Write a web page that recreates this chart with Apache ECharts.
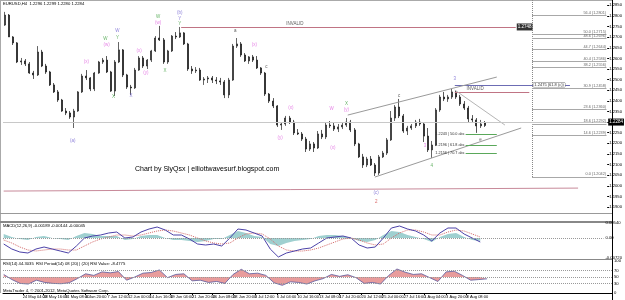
<!DOCTYPE html>
<html>
<head>
<meta charset="utf-8">
<script src="https://cdn.jsdelivr.net/npm/echarts@6/dist/echarts.min.js"></script>
<style>
  html, body { margin: 0; padding: 0; background: #fff; }
  #chart { width: 625px; height: 300px; }
</style>
</head>
<body>
<div id="chart"></div>
<script>
// EURUSD H4, 21 May - 13 Aug 2012.
// One candle here stands for three H4 bars (12 hours): [open, close, low, high]
const candles = [
  [1.2757,1.2804,1.2753,1.2819],[1.2804,1.2701,1.2701,1.2809],[1.2701,1.2673,1.2663,1.2705],
  [1.2673,1.2583,1.2578,1.2677],[1.2583,1.2588,1.2569,1.2602],[1.2588,1.2574,1.2564,1.2597],
  [1.2574,1.2531,1.2527,1.2583],[1.2531,1.2522,1.2503,1.2541],[1.2522,1.2630,1.2517,1.2658],
  [1.2630,1.2564,1.2559,1.2640],[1.2564,1.2536,1.2527,1.2574],[1.2536,1.2475,1.2470,1.2541],
  [1.2475,1.2442,1.2437,1.2484],[1.2442,1.2404,1.2395,1.2451],[1.2404,1.2352,1.2348,1.2409],
  [1.2352,1.2343,1.2333,1.2366],[1.2343,1.2324,1.2315,1.2352],[1.2324,1.2352,1.2272,1.2362],
  [1.2352,1.2442,1.2348,1.2446],[1.2442,1.2517,1.2437,1.2527],[1.2517,1.2508,1.2498,1.2545],
  [1.2508,1.2456,1.2446,1.2512],[1.2456,1.2531,1.2446,1.2536],[1.2531,1.2583,1.2527,1.2588],
  [1.2583,1.2592,1.2574,1.2602],[1.2592,1.2536,1.2531,1.2611],[1.2536,1.2446,1.2442,1.2541],
  [1.2446,1.2583,1.2423,1.2592],[1.2583,1.2640,1.2578,1.2677],[1.2640,1.2522,1.2512,1.2644],
  [1.2522,1.2465,1.2456,1.2527],[1.2465,1.2461,1.2428,1.2475],[1.2461,1.2545,1.2456,1.2555],
  [1.2545,1.2602,1.2541,1.2611],[1.2602,1.2564,1.2555,1.2611],[1.2564,1.2592,1.2550,1.2597],
  [1.2592,1.2635,1.2583,1.2640],[1.2635,1.2696,1.2630,1.2705],[1.2696,1.2687,1.2682,1.2753],
  [1.2687,1.2583,1.2574,1.2696],[1.2583,1.2635,1.2574,1.2640],[1.2635,1.2705,1.2630,1.2710],
  [1.2705,1.2701,1.2691,1.2724],[1.2701,1.2720,1.2696,1.2748],[1.2720,1.2668,1.2663,1.2724],
  [1.2668,1.2550,1.2541,1.2673],[1.2550,1.2541,1.2527,1.2564],[1.2541,1.2545,1.2531,1.2559],
  [1.2545,1.2498,1.2494,1.2555],[1.2498,1.2503,1.2475,1.2512],[1.2503,1.2508,1.2484,1.2517],
  [1.2508,1.2498,1.2484,1.2517],[1.2498,1.2494,1.2479,1.2512],[1.2494,1.2489,1.2475,1.2508],
  [1.2489,1.2428,1.2413,1.2498],[1.2428,1.2498,1.2413,1.2508],[1.2498,1.2658,1.2494,1.2668],
  [1.2658,1.2668,1.2649,1.2696],[1.2668,1.2616,1.2607,1.2677],[1.2616,1.2588,1.2583,1.2625],
  [1.2588,1.2607,1.2574,1.2611],[1.2607,1.2592,1.2583,1.2616],[1.2592,1.2555,1.2550,1.2611],
  [1.2555,1.2531,1.2522,1.2559],[1.2531,1.2432,1.2423,1.2536],[1.2432,1.2399,1.2390,1.2437],
  [1.2399,1.2376,1.2366,1.2413],[1.2376,1.2286,1.2277,1.2380],[1.2286,1.2291,1.2263,1.2300],
  [1.2291,1.2319,1.2282,1.2329],[1.2319,1.2300,1.2291,1.2329],[1.2300,1.2249,1.2239,1.2310],
  [1.2249,1.2244,1.2239,1.2267],[1.2244,1.2220,1.2211,1.2253],[1.2220,1.2173,1.2159,1.2230],
  [1.2173,1.2197,1.2164,1.2211],[1.2197,1.2178,1.2159,1.2206],[1.2178,1.2244,1.2173,1.2258],
  [1.2244,1.2230,1.2220,1.2263],[1.2230,1.2286,1.2220,1.2296],[1.2286,1.2282,1.2272,1.2305],
  [1.2282,1.2267,1.2258,1.2300],[1.2267,1.2277,1.2253,1.2291],[1.2277,1.2286,1.2267,1.2300],
  [1.2286,1.2300,1.2277,1.2319],[1.2300,1.2263,1.2253,1.2310],[1.2263,1.2197,1.2187,1.2272],
  [1.2197,1.2136,1.2131,1.2202],[1.2136,1.2098,1.2084,1.2150],[1.2098,1.2126,1.2088,1.2136],
  [1.2126,1.2098,1.2093,1.2140],[1.2098,1.2060,1.2046,1.2107],[1.2060,1.2136,1.2051,1.2145],
  [1.2136,1.2154,1.2131,1.2164],[1.2154,1.2216,1.2145,1.2225],[1.2216,1.2319,1.2211,1.2352],
  [1.2319,1.2371,1.2305,1.2380],[1.2371,1.2329,1.2319,1.2409],[1.2329,1.2258,1.2249,1.2338],
  [1.2258,1.2272,1.2239,1.2282],[1.2272,1.2282,1.2263,1.2291],[1.2282,1.2300,1.2272,1.2310],
  [1.2300,1.2291,1.2282,1.2315],[1.2291,1.2234,1.2206,1.2300],[1.2234,1.2169,1.2159,1.2272],
  [1.2169,1.2192,1.2131,1.2211],[1.2192,1.2357,1.2187,1.2366],[1.2357,1.2418,1.2348,1.2428],
  [1.2418,1.2409,1.2399,1.2442],[1.2409,1.2418,1.2395,1.2428],[1.2418,1.2442,1.2409,1.2456],
  [1.2442,1.2418,1.2409,1.2451],[1.2418,1.2385,1.2376,1.2428],[1.2385,1.2366,1.2357,1.2399],
  [1.2366,1.2315,1.2300,1.2376],[1.2315,1.2310,1.2300,1.2333],[1.2310,1.2282,1.2249,1.2319],
  [1.2282,1.2291,1.2272,1.2310],[1.2296,1.2284,1.2277,1.2305]
];

// indicator readings, one every 6 H4 bars (24 hours)
const macdMain = [
  -0.00216,-0.00396,-0.00504,-0.00540,-0.00396,-0.00324,-0.00396,-0.00468,-0.00540,-0.00288,
  0.00000,0.00072,0.00108,0.00180,0.00216,0.00000,0.00036,0.00216,0.00324,0.00396,
  0.00288,0.00108,0.00108,-0.00036,-0.00216,-0.00252,-0.00216,-0.00288,0.00000,0.00324,
  0.00288,0.00180,0.00072,-0.00396,-0.00684,-0.00540,-0.00468,-0.00396,-0.00360,-0.00180,
  0.00000,0.00036,0.00072,0.00000,-0.00252,-0.00360,-0.00324,0.00000,0.00360,0.00432,
  0.00324,0.00252,0.00108,-0.00108,0.00180,0.00360,0.00360,0.00144,0.00000,-0.00144
];
const macdSignal = [
  -0.00072,-0.00180,-0.00324,-0.00432,-0.00468,-0.00432,-0.00396,-0.00396,-0.00432,-0.00432,
  -0.00288,-0.00144,-0.00036,0.00036,0.00108,0.00108,0.00072,0.00108,0.00180,0.00252,
  0.00288,0.00252,0.00180,0.00108,0.00000,-0.00108,-0.00180,-0.00216,-0.00180,0.00000,
  0.00144,0.00180,0.00144,-0.00036,-0.00288,-0.00432,-0.00468,-0.00468,-0.00432,-0.00360,
  -0.00252,-0.00144,-0.00036,0.00000,-0.00072,-0.00180,-0.00252,-0.00216,0.00000,0.00180,
  0.00288,0.00288,0.00216,0.00108,0.00108,0.00216,0.00288,0.00252,0.00144,0.00036
];
const macdHist = [
  0.00144,0.00036,-0.00036,-0.00072,0.00036,0.00072,0.00000,-0.00036,-0.00072,0.00072,
  0.00180,0.00144,0.00072,0.00072,0.00072,-0.00072,-0.00036,0.00072,0.00108,0.00108,
  0.00000,-0.00072,-0.00072,-0.00108,-0.00144,-0.00108,-0.00036,-0.00036,0.00108,0.00252,
  0.00180,0.00072,0.00036,-0.00216,-0.00288,-0.00180,-0.00108,-0.00072,-0.00036,0.00072,
  0.00108,0.00108,0.00072,0.00000,-0.00108,-0.00144,-0.00072,0.00108,0.00252,0.00216,
  0.00108,0.00036,-0.00036,-0.00144,0.00036,0.00144,0.00180,0.00036,-0.00072,-0.00108
];
const rsiValues = [
  58,42,30,28,40,33,30,29,32,45, 60,55,66,63,67,40,50,62,64,72,
  48,58,60,38,40,33,36,30,58,74, 60,62,55,32,24,35,33,28,38,45,
  58,52,57,48,30,33,28,55,75,65, 58,60,48,36,66,68,55,40,42,44.3
];

// time axis: label text and the H4 bar it sits on (bar 0 = 21 May 20:00)
const xTickLabels = ['21 May 2012','24 May 04:00','28 May 16:00','31 May 08:00','4 Jun 20:00','7 Jun 12:00',
  '12 Jun 00:00','14 Jun 16:00','19 Jun 04:00','21 Jun 20:00','26 Jun 08:00','28 Jun 20:00','3 Jul 12:00',
  '6 Jul 04:00','10 Jul 16:00','13 Jul 08:00','17 Jul 20:00','20 Jul 12:00','25 Jul 00:00','27 Jul 16:00',
  '1 Aug 04:00','3 Aug 20:00','8 Aug 08:00','10 Aug 20:00'];
const xTickBars = [0,14,29,45,60,76,91,107,122,138,153,168,184,200,215,231,246,262,277,293,308,324,339,354];

// fibonacci levels drawn on the right
const fibLevels = ['56.4','50.0','48.6','44.7','40.4','38.2','30.9','23.6','18.6','14.6','0.0'];
const fibPrices = [1.2801,1.2715,1.2696,1.2644,1.2586,1.2556,1.2458,1.2360,1.2292,1.2239,1.2042];

// abc targets (green)
const targetPrices = [1.2244,1.2192,1.2154];
const targetLabels = ['1.2243 | 50.0 abc','1.2196 | 61.8 abc','1.2156 | 70.7 abc'];

const lastPrice = 1.2284;

// wave counts: [bar, price, text, colour]
const PURPLE = '#6f5fd0', PINK = '#e062e0', GREEN = '#3f9f3f', DARK = '#333', RED = '#d04040';
const waveLabels = [
  [51,1.2211,'(a)',PURPLE],[61,1.2583,'(x)',PINK],[75,1.2691,'W',GREEN],[76,1.2663,'(w)',PINK],
  [81,1.2418,'X',GREEN],[84,1.2729,'W',PURPLE],[84,1.2696,'Y',GREEN],[94,1.2423,'X',PURPLE],
  [100,1.2635,'(x)',PINK],[105,1.2531,'(y)',PINK],[114,1.2795,'W',GREEN],[114,1.2767,'(w)',PINK],
  [119,1.2541,'X',GREEN],[130,1.2814,'(b)',PURPLE],[130,1.2786,'Y',PURPLE],[130,1.2762,'Y',GREEN],
  [171,1.2729,'a',DARK],[185,1.2663,'(x)',PINK],[194,1.2559,'c',DARK],[204,1.2225,'(y)',PINK],
  [212,1.2366,'(x)',PINK],[242,1.2362,'W',PINK],[253,1.2385,'X',GREEN],[253,1.2357,'(y)',PINK],
  [243,1.2178,'(x)',PINK],[275,1.1966,'(c)',PURPLE],[275,1.1924,'2',RED],[292,1.2423,'c',DARK],
  [311,1.2187,'3',PINK],[316,1.2093,'4',GREEN],[333,1.2503,'3',PURPLE],[352,1.2216,'e',DARK],
  [215,1.2762,'INVALID',DARK],[348,1.2458,'INVALID',DARK]
];

const NBARS = 446;
const FONT = '"Liberation Sans", Arial, sans-serif';
const cats = Array.from({ length: NBARS }, (_, i) => String(i));
const labelAt = {};
xTickBars.forEach((b, i) => { labelAt[b] = xTickLabels[i]; });

const candleData = candles.map((c, i) => [3 * i + 1, ...c]);
const daily = (arr) => arr.map((v, k) => [6 * k, v]);

const seg = (a, b, color, extra) => [
  Object.assign({ coord: a, lineStyle: { color: color, width: 1, type: 'solid' }, label: { show: false } }, extra || {}),
  { coord: b }
];

const mainLines = [
  seg([131, 1.2748], [378, 1.2748], '#c07484', {
    label: { show: true, position: 'end', formatter: '1.2748', fontSize: 4.5, fontFamily: FONT,
      color: '#fff', backgroundColor: '#333', padding: [1, 1], distance: 1 }
  }),
  seg([333, 1.2442], [388, 1.2442], '#c07484'),
  seg([333, 1.2475], [418, 1.2475], '#6c6cb4', {
    label: { show: true, position: 'insideEnd', formatter: '1.2475 (61.8 (c))', fontSize: 4, fontFamily: FONT,
      color: '#333', backgroundColor: '#fff', borderColor: '#777', borderWidth: 0.5, padding: [0, 1] }
  }),
  seg([390, 1.2875], [390, 1.2040], '#888', { lineStyle: { color: '#888', width: 1, type: 'dotted' } }),
  seg([0, 1.1975], [424, 1.1989], '#c88a9a'),
  seg([254, 1.2333], [364, 1.2512], '#9a9a9a'),
  seg([274, 1.2041], [382, 1.2272], '#9a9a9a'),
  seg([333, 1.2451], [370, 1.2286], '#b5b5b5')
];
fibPrices.forEach((p, i) => {
  mainLines.push(seg([390, p], [445, p], '#a8a8a8', {
    label: { show: true, position: 'insideEndTop', distance: 0.5, formatter: fibLevels[i] + ' (' + p.toFixed(4) + ')',
      fontSize: 3.8, fontFamily: FONT, color: '#666' }
  }));
});
targetPrices.forEach((p, i) => {
  mainLines.push(seg([341, p], [364, p], '#5aa85a', {
    label: { show: true, position: 'start', distance: 1, formatter: targetLabels[i],
      fontSize: 3.8, fontFamily: FONT, color: '#333' }
  }));
});
mainLines.push({
  yAxis: lastPrice, lineStyle: { color: '#c8c8c8', width: 1, type: 'solid' },
  label: { show: true, position: 'end', formatter: lastPrice.toFixed(4), fontSize: 4.5, fontFamily: FONT,
    color: '#fff', backgroundColor: '#000', padding: [1, 1], distance: 1 }
});

const xAxisBase = (grid) => ({
  type: 'category', gridIndex: grid, data: cats, boundaryGap: true,
  axisLine: { show: false }, axisTick: { show: false }, axisLabel: { show: false }, splitLine: { show: false }
});
const yLabel = { fontSize: 4.2, fontFamily: FONT, color: '#000', margin: 2 };

const chart = echarts.init(document.getElementById('chart'));
chart.setOption({
  animation: false,
  backgroundColor: '#fff',
  grid: [
    { left: 3, right: 13, top: 0, bottom: 82.4 },
    { left: 3, right: 13, top: 223, height: 35 },
    { left: 3, right: 13, top: 261, height: 32 }
  ],
  xAxis: [
    xAxisBase(0),
    xAxisBase(1),
    Object.assign(xAxisBase(2), {
      axisLine: { show: true, lineStyle: { color: '#000', width: 1 } },
      axisTick: { show: true, alignWithLabel: true, length: 2, interval: (i) => labelAt[i] !== undefined,
        lineStyle: { color: '#000' } },
      axisLabel: { show: true, interval: (i) => labelAt[i] !== undefined, formatter: (v, i) => labelAt[i] || '',
        align: 'left', fontSize: 4, fontFamily: FONT, color: '#000', margin: 2 }
    })
  ],
  yAxis: [
    { type: 'value', gridIndex: 0, position: 'right', min: 1.185, max: 1.2875, interval: 0.005,
      axisLine: { show: false }, axisTick: { show: true, length: 2, lineStyle: { color: '#000' } },
      splitLine: { show: false },
      axisLabel: Object.assign({ formatter: (v) => v.toFixed(4), showMinLabel: false, showMaxLabel: false }, yLabel) },
    { type: 'value', gridIndex: 1, position: 'right', min: -0.0072, max: 0.0054, interval: 0.0018,
      axisLine: { show: false }, axisTick: { show: false }, splitLine: { show: false },
      axisLabel: Object.assign({
        formatter: (v) => Math.abs(v) < 1e-9 ? '0.00' : (Math.abs(v - 0.0054) < 1e-9 || Math.abs(v + 0.0072) < 1e-9 ? v.toFixed(5) : '')
      }, yLabel) },
    { type: 'value', gridIndex: 2, position: 'right', min: 0, max: 100, interval: 10,
      axisLine: { show: false }, axisTick: { show: false }, splitLine: { show: false },
      axisLabel: Object.assign({ formatter: (v) => [0, 30, 50, 70, 100].includes(v) ? String(v) : '' }, yLabel) }
  ],
  series: [
    {
      type: 'candlestick', xAxisIndex: 0, yAxisIndex: 0, data: candleData,
      encode: { x: 0, y: [1, 2, 3, 4] }, barWidth: 1.5, silent: true,
      itemStyle: { color: '#333', color0: '#222', borderColor: '#222', borderColor0: '#111', borderWidth: 0.7 },
      markLine: { silent: true, symbol: 'none', animation: false, data: mainLines }
    },
    {
      type: 'scatter', xAxisIndex: 0, yAxisIndex: 0, symbolSize: 1, silent: true,
      itemStyle: { color: 'rgba(0,0,0,0)' },
      data: waveLabels.map((w) => ({
        value: [w[0], w[1]],
        label: { show: true, position: 'inside', formatter: w[2], color: w[3], fontSize: 4.5, fontFamily: FONT }
      }))
    },
    {
      type: 'line', xAxisIndex: 1, yAxisIndex: 1, data: daily(macdHist), symbol: 'none', silent: true,
      lineStyle: { width: 0 }, areaStyle: { color: '#9fd0d0', opacity: 1 },
      markLine: { silent: true, symbol: 'none', label: { show: false },
        lineStyle: { color: '#999', type: 'dotted', width: 1 }, data: [{ yAxis: 0 }] }
    },
    {
      type: 'line', xAxisIndex: 1, yAxisIndex: 1, data: daily(macdSignal), symbol: 'none', silent: true,
      lineStyle: { color: '#d46a6a', width: 1, type: 'dotted' }
    },
    {
      type: 'line', xAxisIndex: 1, yAxisIndex: 1, data: daily(macdMain), symbol: 'none', silent: true,
      lineStyle: { color: '#4c42a8', width: 1 }
    },
    {
      type: 'line', xAxisIndex: 2, yAxisIndex: 2, data: daily(rsiValues), symbol: 'none', silent: true,
      lineStyle: { color: '#5b5b9e', width: 0.8 }, areaStyle: { color: '#e89c9c', origin: 50, opacity: 1 },
      markLine: { silent: true, symbol: 'none', label: { show: false },
        lineStyle: { color: '#999', type: 'dotted', width: 1 }, data: [{ yAxis: 70 }, { yAxis: 50 }, { yAxis: 30 }] }
    }
  ],
  graphic: [
    { type: 'line', shape: { x1: 0, y1: 0.5, x2: 612, y2: 0.5 }, style: { stroke: '#aaa', lineWidth: 1 }, silent: true },
    { type: 'line', shape: { x1: 0.5, y1: 0, x2: 0.5, y2: 293 }, style: { stroke: '#aaa', lineWidth: 1 }, silent: true },
    { type: 'line', shape: { x1: 0, y1: 213.5, x2: 612, y2: 213.5 }, style: { stroke: '#999', lineWidth: 1 }, silent: true },
    { type: 'rect', shape: { x: 0, y: 221, width: 612, height: 2 }, style: { fill: '#888' }, silent: true },
    { type: 'line', shape: { x1: 0, y1: 259.5, x2: 612, y2: 259.5 }, style: { stroke: '#888', lineWidth: 1 }, silent: true },
    { type: 'line', shape: { x1: 612.5, y1: 0, x2: 612.5, y2: 300 }, style: { stroke: '#000', lineWidth: 1 }, silent: true },
    { type: 'text', left: 3, top: 2, silent: true,
      style: { text: 'EURUSD,H4  1.2296 1.2299 1.2280 1.2284', fontSize: 4.2, fontFamily: FONT, fill: '#000' } },
    { type: 'text', left: 135, top: 166, silent: true,
      style: { text: 'Chart by SlyQsx | elliottwavesurf.blogspot.com', fontSize: 7, fontFamily: FONT, fill: '#000' } },
    { type: 'text', left: 3, top: 224, silent: true,
      style: { text: 'MACD(12,26,9) -0.00189 -0.00144 -0.00045', fontSize: 4.2, fontFamily: FONT, fill: '#000' } },
    { type: 'text', left: 3, top: 262, silent: true,
      style: { text: 'RSI(14) 44.3035  RSI Period(14) 08 (20) | (20) RSI Value: -8.4775', fontSize: 4.2, fontFamily: FONT, fill: '#000' } },
    { type: 'text', left: 3, top: 288.5, silent: true,
      style: { text: 'MetaTrader 4, \u00a9 2001-2012, MetaQuotes Software Corp.', fontSize: 4.2, fontFamily: FONT, fill: '#000' } }
  ]
});
</script>
</body>
</html>
